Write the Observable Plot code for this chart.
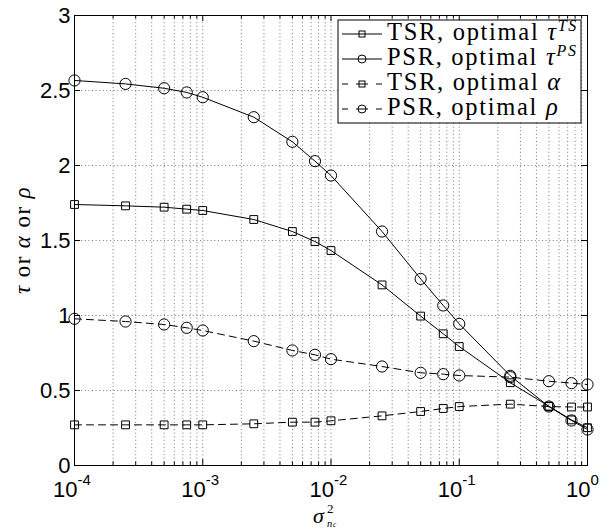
<!DOCTYPE html>
<html>
<head>
<meta charset="utf-8">
<script src="https://cdn.jsdelivr.net/npm/d3@7"></script>
<script src="https://cdn.jsdelivr.net/npm/@observablehq/plot@0.6"></script>
<style>
  html, body { margin: 0; padding: 0; background: #fff; }
  #chart { width: 612px; height: 529px; overflow: hidden; }
</style>
</head>
<body>
<div id="chart"></div>
<script>
// ---- data ----
const xs = [1e-4, 2.5e-4, 5e-4, 7.5e-4, 1e-3, 2.5e-3, 5e-3, 7.5e-3, 1e-2, 2.5e-2, 5e-2, 7.5e-2, 0.1, 0.25, 0.5, 0.75, 1];
const tsrTau   = [1.740, 1.731, 1.722, 1.709, 1.700, 1.640, 1.560, 1.493, 1.433, 1.204, 0.996, 0.878, 0.793, 0.552, 0.395, 0.304, 0.252];
const psrTau   = [2.567, 2.544, 2.515, 2.487, 2.455, 2.322, 2.158, 2.029, 1.933, 1.560, 1.244, 1.067, 0.944, 0.598, 0.393, 0.300, 0.240];
const tsrAlpha = [0.271, 0.271, 0.271, 0.271, 0.271, 0.278, 0.289, 0.289, 0.298, 0.331, 0.360, 0.380, 0.393, 0.409, 0.393, 0.390, 0.390];
const psrRho   = [0.978, 0.960, 0.940, 0.918, 0.900, 0.829, 0.767, 0.738, 0.709, 0.660, 0.618, 0.609, 0.600, 0.589, 0.562, 0.549, 0.540];

const yTicks = [0, 0.5, 1, 1.5, 2, 2.5, 3];
const xMajor = [1e-4, 1e-3, 1e-2, 1e-1, 1];
const xExp = ["-4", "-3", "-2", "-1", "0"];
const xMinor = [1e-4, 1e-3, 1e-2, 1e-1].flatMap(d => [2,3,4,5,6,7,8,9].map(k => k * d));

const series = (ys) => xs.map((x, i) => ({x, y: ys[i]}));
const sTsrTau = series(tsrTau), sPsrTau = series(psrTau), sTsrAlpha = series(tsrAlpha), sPsrRho = series(psrRho);

const W = 612, H = 529, mL = 74, mR = 25, mT = 15, mB = 64;
const pw = W - mL - mR, ph = H - mT - mB;
const gridStyle = {stroke: "#444", strokeWidth: 0.9, strokeDasharray: "1,2.6", strokeOpacity: 0.8};

const chart = Plot.plot({
  width: W, height: H,
  marginLeft: mL, marginRight: mR, marginTop: mT, marginBottom: mB,
  style: {background: "#fff", fontFamily: "Liberation Sans, Arial, sans-serif", fontSize: "22px", color: "#000"},
  x: {type: "log", domain: [1e-4, 1], axis: null},
  y: {domain: [0, 3]},
  marks: [
    Plot.gridX(xMinor.concat(xMajor), gridStyle),
    Plot.gridY(yTicks, gridStyle),
    // inward ticks
    Plot.tickX(xMajor, {x: d => d, insetTop: ph - 6, stroke: "#000"}),
    Plot.tickX(xMajor, {x: d => d, insetBottom: ph - 6, stroke: "#000"}),
    Plot.tickX(xMinor, {x: d => d, insetTop: ph - 3.5, stroke: "#000"}),
    Plot.tickX(xMinor, {x: d => d, insetBottom: ph - 3.5, stroke: "#000"}),
    Plot.tickY(yTicks, {y: d => d, insetRight: pw - 6, stroke: "#000"}),
    Plot.tickY(yTicks, {y: d => d, insetLeft: pw - 6, stroke: "#000"}),
    Plot.axisY(yTicks, {tickSize: 0, tickPadding: 4, label: null, tickFormat: d => String(d), fontSize: 22}),
    Plot.text(xMajor, {x: d => d, frameAnchor: "bottom", text: () => "10", textAnchor: "end", dx: 3, dy: 31.5, lineAnchor: "bottom", fontSize: 22}),
    Plot.text(xMajor, {x: d => d, frameAnchor: "bottom", text: (d, i) => xExp[i], textAnchor: "start", dx: 3, dy: 19, lineAnchor: "bottom", fontSize: 15}),
    // series
    Plot.line(sTsrTau, {x: "x", y: "y", stroke: "#000", strokeWidth: 1}),
    Plot.line(sPsrTau, {x: "x", y: "y", stroke: "#000", strokeWidth: 1}),
    Plot.line(sTsrAlpha, {x: "x", y: "y", stroke: "#000", strokeWidth: 1, strokeDasharray: "7,5"}),
    Plot.line(sPsrRho, {x: "x", y: "y", stroke: "#000", strokeWidth: 1, strokeDasharray: "7,5"}),
    Plot.dot(sTsrTau, {x: "x", y: "y", symbol: "square", r: 4.4, stroke: "#000", fill: "none", strokeWidth: 1}),
    Plot.dot(sPsrTau, {x: "x", y: "y", symbol: "circle", r: 5.6, stroke: "#000", fill: "none", strokeWidth: 1}),
    Plot.dot(sTsrAlpha, {x: "x", y: "y", symbol: "square", r: 4.4, stroke: "#000", fill: "none", strokeWidth: 1}),
    Plot.dot(sPsrRho, {x: "x", y: "y", symbol: "circle", r: 5.6, stroke: "#000", fill: "none", strokeWidth: 1}),
    Plot.frame({stroke: "#000", strokeWidth: 1})
  ]
});
document.getElementById("chart").appendChild(chart);

// ---- labels and legend ----
const svg = d3.select(chart);
const serif = "Liberation Serif, serif";

// y label
const yl = svg.append("text")
  .attr("transform", `translate(30,${mT + ph / 2}) rotate(-90)`)
  .attr("text-anchor", "middle")
  .attr("font-family", serif).attr("font-size", 23).attr("letter-spacing", 1.4).attr("fill", "#000");
yl.append("tspan").attr("font-style", "italic").text("τ");
yl.append("tspan").text(" or ");
yl.append("tspan").attr("font-style", "italic").text("α");
yl.append("tspan").text(" or ");
yl.append("tspan").attr("font-style", "italic").text("ρ");

// x label: σ² with subscript n_c, as one text element
const xl = svg.append("text").attr("font-family", serif).attr("fill", "#000").attr("text-anchor", "start");
xl.append("tspan").attr("x", 313).attr("y", 522.5).attr("font-size", 22).attr("font-style", "italic").text("σ");
xl.append("tspan").attr("x", 327).attr("y", 513).attr("font-size", 13).text("2");
xl.append("tspan").attr("x", 327).attr("y", 526.5).attr("font-size", 10.5).attr("font-style", "italic").text("n");
xl.append("tspan").attr("x", 333).attr("y", 527).attr("font-size", 7.5).attr("font-style", "italic").text("c");

// legend
const lg = svg.append("g").attr("text-anchor", "start");
lg.append("rect").attr("x", 338).attr("y", 20).attr("width", 243).attr("height", 103)
  .attr("fill", "#fff").attr("stroke", "#000").attr("stroke-width", 1);
const entries = [
  {label: "TSR, optimal ", sym: "τ", sup: "TS", marker: "square", dashed: false},
  {label: "PSR, optimal ", sym: "τ", sup: "PS", marker: "circle", dashed: false},
  {label: "TSR, optimal ", sym: "α", sup: null, marker: "square", dashed: true},
  {label: "PSR, optimal ", sym: "ρ", sup: null, marker: "circle", dashed: true}
];
entries.forEach((e, i) => {
  const cy = 34 + i * 25;
  const mx = 362;
  if (e.dashed) {
    lg.append("path").attr("d", `M342,${cy}H348M356,${cy}H368M376,${cy}H382`).attr("stroke", "#000").attr("fill", "none");
  } else {
    lg.append("path").attr("d", `M342,${cy}H382`).attr("stroke", "#000").attr("fill", "none");
  }
  if (e.marker === "square") {
    lg.append("rect").attr("x", mx - 3).attr("y", cy - 3).attr("width", 6).attr("height", 6)
      .attr("fill", "none").attr("stroke", "#000");
  } else {
    lg.append("circle").attr("cx", mx).attr("cy", cy).attr("r", 4).attr("fill", "none").attr("stroke", "#000");
  }
  const t = lg.append("text").attr("x", 387).attr("y", cy + 6).attr("text-anchor", "start")
    .attr("font-family", serif).attr("font-size", 24.5).attr("fill", "#000").attr("letter-spacing", 1.7);
  t.append("tspan").text(e.label);
  t.append("tspan").attr("font-style", "italic").text(e.sym);
  if (e.sup) t.append("tspan").attr("font-style", "italic").attr("font-size", 16).attr("dy", -9).text(e.sup);
});
</script>
</body>
</html>
